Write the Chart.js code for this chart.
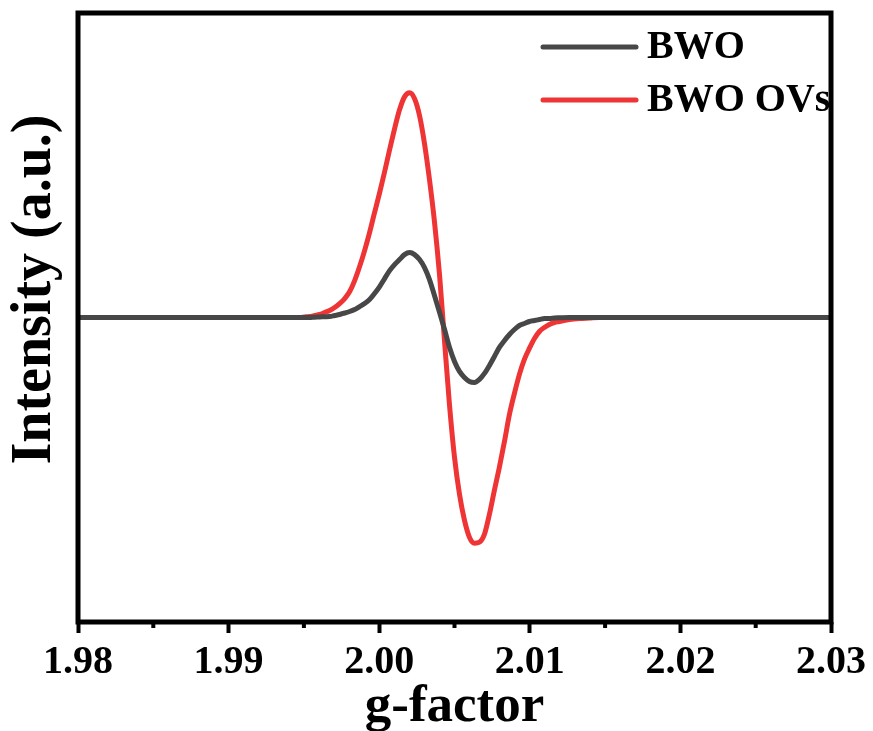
<!DOCTYPE html>
<html>
<head>
<meta charset="utf-8">
<script src="https://cdn.jsdelivr.net/npm/chart.js@4.4.0/dist/chart.umd.min.js"></script>
<style>
html,body{margin:0;padding:0;background:#ffffff;}
#wrap{width:873px;height:731px;position:relative;}
</style>
</head>
<body>
<div id="wrap"><canvas id="c"></canvas></div>
<script>
// g-factor sample positions
const gFactor = [1.98, 1.99,
  1.99472, 1.99505, 1.99538, 1.99572, 1.99605, 1.99638, 1.99671, 1.99704, 1.99737, 1.99771,
  1.99804, 1.99837, 1.99870, 1.99903, 1.99936, 1.99969, 2.00003, 2.00036, 2.00069, 2.00102,
  2.00135, 2.00168, 2.00202, 2.00235, 2.00268, 2.00301, 2.00334, 2.00367, 2.00401, 2.00434,
  2.00467, 2.00500, 2.00533, 2.00566, 2.00599, 2.00633, 2.00666, 2.00699, 2.00732, 2.00765,
  2.00798, 2.00832, 2.00865, 2.00898, 2.00931, 2.00964, 2.00997, 2.01031, 2.01064, 2.01097,
  2.01130, 2.01163, 2.01196,
  2.01263, 2.01329, 2.01395, 2.01462, 2.02, 2.03];
// Intensity (a.u.)
const bwo = [0, 0,
  0, 0, 0, 0.3, 0.5, 0.8, 1, 2, 3, 4.5,
  6, 8, 11, 14, 18, 24, 31, 39, 47, 53,
  58, 63, 65, 63, 58, 50, 38, 22, 5, -12,
  -30, -44, -54, -60, -64, -65, -62, -56, -48, -39,
  -30, -23, -17, -12, -8, -6, -4, -3, -2, -1,
  -1, -0.5, -0.3,
  0, 0, 0, 0, 0, 0];
const bwoOVs = [0, 0,
  0, 0.5, 1, 2, 3, 5, 7, 10, 14, 19,
  26, 37, 51, 67, 85, 105, 125, 146, 168, 189,
  208, 221, 225, 219, 202, 174, 138, 96, 42, -24,
  -88, -140, -177, -203, -220, -226, -225, -217, -197, -173,
  -150, -124, -97, -76, -57, -42, -31, -21, -14, -10,
  -7, -5, -4,
  -2, -1, -0.5, 0, 0, 0];
const seriesNames = ['BWO', 'BWO OVs'];
const xTicks = [1.98, 1.99, 2.00, 2.01, 2.02, 2.03];
const xMinorTicks = [1.985, 1.995, 2.005, 2.015, 2.025];

const SERIF = '"Liberation Serif", "Times New Roman", serif';
const Y_TITLE_SHIFT = -28;

const toPoints = (ys) => gFactor.map((g, i) => ({x: g, y: ys[i]}));

const titleShiftPlugin = {
  id: 'titleShift',
  afterLayout(chart) {
    const s = chart.scales.y;
    if (s && !s.__shifted) {
      const orig = s.drawTitle.bind(s);
      s.drawTitle = function () {
        const c = this.ctx;
        c.save();
        c.translate(0, Y_TITLE_SHIFT);
        orig();
        c.restore();
      };
      s.__shifted = true;
    }
  }
};

const framePlugin = {
  id: 'frame',
  afterDatasetsDraw(chart) {
    const {ctx, chartArea: a, scales} = chart;
    ctx.save();
    // minor ticks
    ctx.strokeStyle = '#000';
    ctx.lineWidth = 4;
    ctx.lineCap = 'butt';
    xMinorTicks.forEach(v => {
      const px = scales.x.getPixelForValue(v);
      ctx.beginPath();
      ctx.moveTo(px, a.bottom);
      ctx.lineTo(px, a.bottom + 6);
      ctx.stroke();
    });
    // frame
    ctx.lineWidth = 5;
    ctx.strokeRect(a.left, a.top, a.right - a.left, a.bottom - a.top);
    // legend
    chart.data.datasets.forEach((ds, i) => {
      const y = a.top + 34 + i * 53;
      const x0 = a.right - 288, x1 = a.right - 195;
      ctx.strokeStyle = ds.borderColor;
      ctx.lineWidth = 5;
      ctx.lineCap = 'round';
      ctx.beginPath();
      ctx.moveTo(x0, y);
      ctx.lineTo(x1, y);
      ctx.stroke();
      ctx.fillStyle = '#000';
      ctx.font = 'bold 40px ' + SERIF;
      ctx.textBaseline = 'middle';
      ctx.textAlign = 'left';
      ctx.fillText(ds.label, x1 + 11, y + 1);
    });
    ctx.restore();
  }
};

new Chart(document.getElementById('c'), {
  type: 'line',
  data: {
    datasets: [
      {
        label: seriesNames[0],
        data: toPoints(bwo),
        borderColor: '#474747',
        borderWidth: 5,
        borderCapStyle: 'round',
        borderJoinStyle: 'round',
        pointRadius: 0,
        fill: false,
        cubicInterpolationMode: 'monotone'
      },
      {
        label: seriesNames[1],
        data: toPoints(bwoOVs),
        borderColor: '#EE3434',
        borderWidth: 5,
        borderCapStyle: 'round',
        borderJoinStyle: 'round',
        pointRadius: 0,
        fill: false,
        cubicInterpolationMode: 'monotone'
      }
    ]
  },
  options: {
    responsive: true,
    maintainAspectRatio: false,
    animation: false,
    devicePixelRatio: 1,
    layout: {padding: {top: 13, right: 42, left: 0, bottom: 0}},
    plugins: {
      legend: {display: false},
      tooltip: {enabled: false}
    },
    scales: {
      x: {
        type: 'linear',
        min: 1.98,
        max: 2.03,
        afterBuildTicks: (s) => { s.ticks = xTicks.map(v => ({value: v})); },
        afterFit: (s) => { s.height = 109; },
        ticks: {
          callback: (v) => Number(v).toFixed(2),
          font: {family: SERIF, size: 40, weight: 'bold'},
          color: '#000',
          padding: 6,
          maxRotation: 0,
          autoSkip: false
        },
        grid: {
          display: true,
          drawOnChartArea: false,
          drawTicks: true,
          tickLength: 11,
          tickWidth: 4,
          tickColor: '#000'
        },
        border: {display: false},
        title: {
          display: true,
          text: 'g-factor',
          color: '#000',
          font: {family: SERIF, size: 53, weight: 'bold', lineHeight: 1},
          padding: {top: 0, bottom: -3}
        }
      },
      y: {
        min: -305,
        max: 305,
        afterFit: (s) => { s.width = 78; },
        ticks: {display: false},
        grid: {display: false, drawTicks: false},
        border: {display: false},
        title: {
          display: true,
          text: 'Intensity (a.u.)',
          color: '#000',
          font: {family: SERIF, size: 56, weight: 'bold', lineHeight: 1},
          padding: {top: 8, bottom: 0}
        }
      }
    }
  },
  plugins: [titleShiftPlugin, framePlugin]
});
</script>
</body>
</html>
